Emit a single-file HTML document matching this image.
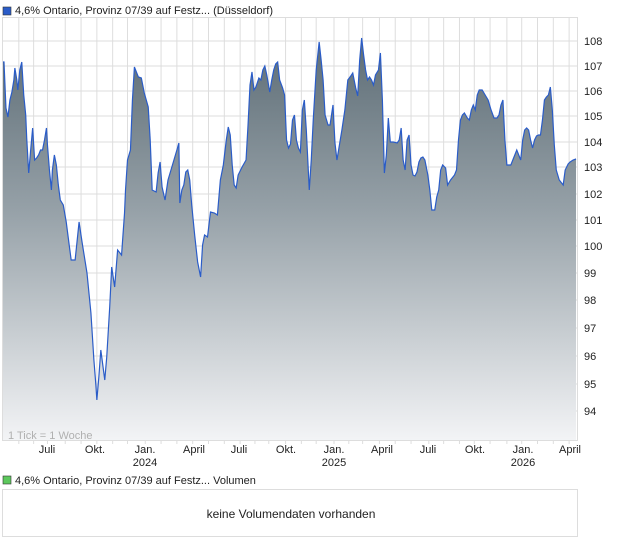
<!DOCTYPE html>
<html><head><meta charset="utf-8"><style>
body{margin:0;background:#fff;width:620px;height:546px;overflow:hidden;font-family:"Liberation Sans",sans-serif;}
</style></head><body>
<svg width="620" height="546" xmlns="http://www.w3.org/2000/svg" font-family="Liberation Sans, sans-serif">
<defs><linearGradient id="g" x1="0" y1="17" x2="0" y2="441" gradientUnits="userSpaceOnUse">
<stop offset="0" stop-color="#56666f"/><stop offset="0.45" stop-color="#95a0a7"/><stop offset="1" stop-color="#f3f4f6"/></linearGradient></defs>
<rect x="3" y="7" width="8" height="8" fill="#2a5cc8" stroke="#333" stroke-width="0.6"/>
<text x="15" y="14" font-size="11" fill="#222">4,6% Ontario, Provinz 07/39 auf Festz... (Düsseldorf)</text>
<rect x="2.5" y="17.5" width="575" height="423" fill="#fff" stroke="#ddd"/>
<g transform="translate(3,0) scale(0.988,1) translate(-3,0)">
<g stroke="#ddd" stroke-width="1">
<path d="M3 41H585M3 66H585M3 91H585M3 116H585M3 142H585M3 167H585M3 194H585M3 220H585M3 246H585M3 273H585M3 300H585M3 328H585M3 356H585M3 384H585M3 411H585"/>
<path d="M19 17V441M34 17V441M48 17V441M66 17V441M82 17V441M98 17V441M114 17V441M129 17V441M147 17V441M163 17V441M179 17V441M195 17V441M211 17V441M227 17V441M243 17V441M258 17V441M272 17V441M289 17V441M305 17V441M320 17V441M338 17V441M353 17V441M367 17V441M384 17V441M400 17V441M416 17V441M434 17V441M449 17V441M465 17V441M480 17V441M496 17V441M513 17V441M528 17V441M544 17V441M560 17V441M576 17V441"/>
<path d="M19 441v3M34 441v3M48 441v3M66 441v3M82 441v3M98 441v3M114 441v3M129 441v3M147 441v3M163 441v3M179 441v3M195 441v3M211 441v3M227 441v3M243 441v3M258 441v3M272 441v3M289 441v3M305 441v3M320 441v3M338 441v3M353 441v3M367 441v3M384 441v3M400 441v3M416 441v3M434 441v3M449 441v3M465 441v3M480 441v3M496 441v3M513 441v3M528 441v3M544 441v3M560 441v3M576 441v3"/>
</g>
<polygon fill="url(#g)" points="3,441 3,62 4,62 6,108 8,117 10,100 12,92 14,80 15,68 17,80 18,90 20,70 22,62 24,95 26,115 27,138 29,173 31,150 33,128 35,160 37,158 39,155 41,150 43,150 45,140 47,128 48,145 50,170 52,190 53,170 55,155 57,165 59,185 61,200 64,205 67,222 70,245 72,260 76,260 80,222 83,242 88,273 92,313 95,360 97,385 98,400 100,377 102,350 104,365 106,380 108,357 111,307 113,267 116,287 119,250 123,255 126,213 127,190 129,160 132,150 134,100 136,67 140,77 143,78 146,93 150,107 152,140 154,190 158,192 160,173 162,162 164,187 167,200 170,180 173,170 176,160 179,150 181,143 182,203 184,190 186,185 188,172 190,170 192,180 194,205 197,235 200,262 203,277 205,245 207,235 210,237 213,212 217,213 220,215 223,180 226,165 229,140 231,127 233,135 235,165 237,185 239,188 241,175 245,167 249,160 251,125 253,85 255,72 257,90 259,87 262,78 264,80 266,70 268,66 270,75 273,92 275,80 277,70 279,64 281,62 283,80 286,88 288,95 290,140 292,148 294,144 296,120 298,115 300,140 302,148 304,152 306,110 308,100 310,130 313,190 315,160 317,120 320,70 323,42 325,60 327,80 329,115 332,125 334,125 337,105 339,143 341,160 344,142 346,130 349,110 352,80 355,76 357,73 360,88 362,96 364,60 366,38 368,55 370,70 372,80 374,77 376,80 378,85 380,75 383,70 385,53 387,100 389,173 391,155 393,118 395,142 398,142 402,143 404,140 406,128 408,160 410,170 412,140 414,135 416,165 418,175 420,176 422,172 424,162 426,158 428,157 430,160 433,175 435,190 437,210 440,210 442,197 444,190 446,170 448,165 451,168 453,185 456,180 460,175 462,170 464,140 466,120 468,115 470,113 473,118 475,120 477,110 479,105 481,110 483,95 485,90 488,90 491,95 494,100 497,110 500,118 503,118 505,115 507,105 509,100 511,140 513,165 517,165 519,160 523,150 525,155 527,160 529,140 531,130 533,128 535,130 537,140 539,148 541,140 543,136 545,135 547,135 549,120 551,100 553,97 555,95 557,87 559,110 561,145 563,170 566,180 570,185 572,170 575,164 577,162 580,160 583,159 583,441"/>
<polyline fill="none" stroke="#2a5cc8" stroke-width="1.2" points="3,62 4,62 6,108 8,117 10,100 12,92 14,80 15,68 17,80 18,90 20,70 22,62 24,95 26,115 27,138 29,173 31,150 33,128 35,160 37,158 39,155 41,150 43,150 45,140 47,128 48,145 50,170 52,190 53,170 55,155 57,165 59,185 61,200 64,205 67,222 70,245 72,260 76,260 80,222 83,242 88,273 92,313 95,360 97,385 98,400 100,377 102,350 104,365 106,380 108,357 111,307 113,267 116,287 119,250 123,255 126,213 127,190 129,160 132,150 134,100 136,67 140,77 143,78 146,93 150,107 152,140 154,190 158,192 160,173 162,162 164,187 167,200 170,180 173,170 176,160 179,150 181,143 182,203 184,190 186,185 188,172 190,170 192,180 194,205 197,235 200,262 203,277 205,245 207,235 210,237 213,212 217,213 220,215 223,180 226,165 229,140 231,127 233,135 235,165 237,185 239,188 241,175 245,167 249,160 251,125 253,85 255,72 257,90 259,87 262,78 264,80 266,70 268,66 270,75 273,92 275,80 277,70 279,64 281,62 283,80 286,88 288,95 290,140 292,148 294,144 296,120 298,115 300,140 302,148 304,152 306,110 308,100 310,130 313,190 315,160 317,120 320,70 323,42 325,60 327,80 329,115 332,125 334,125 337,105 339,143 341,160 344,142 346,130 349,110 352,80 355,76 357,73 360,88 362,96 364,60 366,38 368,55 370,70 372,80 374,77 376,80 378,85 380,75 383,70 385,53 387,100 389,173 391,155 393,118 395,142 398,142 402,143 404,140 406,128 408,160 410,170 412,140 414,135 416,165 418,175 420,176 422,172 424,162 426,158 428,157 430,160 433,175 435,190 437,210 440,210 442,197 444,190 446,170 448,165 451,168 453,185 456,180 460,175 462,170 464,140 466,120 468,115 470,113 473,118 475,120 477,110 479,105 481,110 483,95 485,90 488,90 491,95 494,100 497,110 500,118 503,118 505,115 507,105 509,100 511,140 513,165 517,165 519,160 523,150 525,155 527,160 529,140 531,130 533,128 535,130 537,140 539,148 541,140 543,136 545,135 547,135 549,120 551,100 553,97 555,95 557,87 559,110 561,145 563,170 566,180 570,185 572,170 575,164 577,162 580,160 583,159"/>
</g>
<rect x="2.5" y="17.5" width="575" height="423" fill="none" stroke="#ddd"/>
<text x="8" y="439" font-size="11" fill="#b0b0b0">1 Tick = 1 Woche</text>
<g font-size="11" fill="#222">
<text x="584" y="45">108</text><text x="584" y="70">107</text><text x="584" y="95">106</text><text x="584" y="120">105</text><text x="584" y="146">104</text><text x="584" y="171">103</text><text x="584" y="198">102</text><text x="584" y="224">101</text><text x="584" y="250">100</text><text x="584" y="277">99</text><text x="584" y="304">98</text><text x="584" y="332">97</text><text x="584" y="360">96</text><text x="584" y="388">95</text><text x="584" y="415">94</text>
</g>
<g font-size="11" fill="#222" text-anchor="middle">
<text x="47" y="453">Juli</text><text x="95" y="453">Okt.</text><text x="145" y="453">Jan.</text><text x="145" y="466">2024</text><text x="194" y="453">April</text><text x="239" y="453">Juli</text><text x="286" y="453">Okt.</text><text x="334" y="453">Jan.</text><text x="334" y="466">2025</text><text x="382" y="453">April</text><text x="428" y="453">Juli</text><text x="475" y="453">Okt.</text><text x="523" y="453">Jan.</text><text x="523" y="466">2026</text><text x="570" y="453">April</text>
</g>
<rect x="3" y="476" width="8" height="8" fill="#5cc85c" stroke="#333" stroke-width="0.6"/>
<text x="15" y="484" font-size="11" fill="#222">4,6% Ontario, Provinz 07/39 auf Festz... Volumen</text>
<rect x="2.5" y="489.5" width="575" height="47" fill="#fff" stroke="#ddd"/>
<text x="291" y="518" font-size="12" fill="#222" text-anchor="middle">keine Volumendaten vorhanden</text>
</svg>
</body></html>
